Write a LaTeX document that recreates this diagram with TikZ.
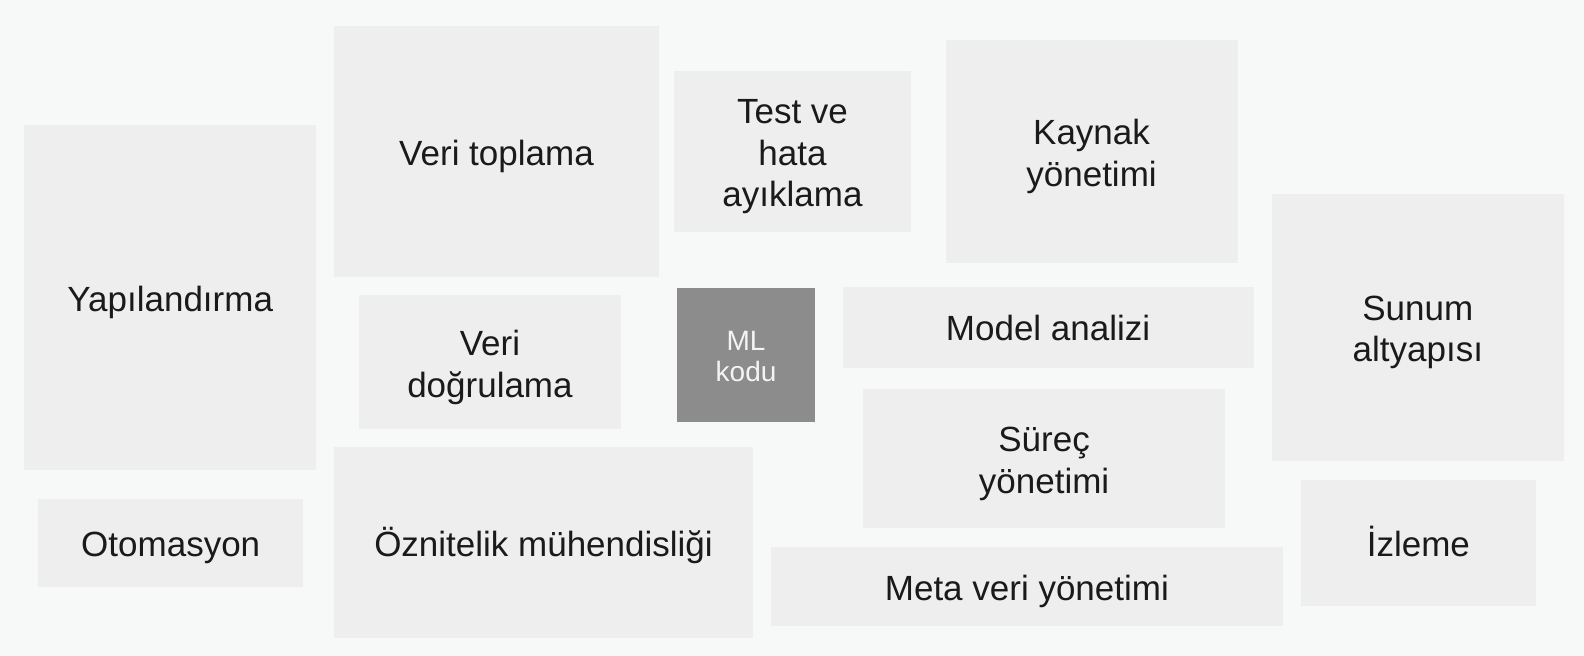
\documentclass[tikz,border=0pt]{standalone}
\usepackage{fontspec}
\setmainfont{Liberation Sans}
\definecolor{bg}{HTML}{F7F8F8}
\definecolor{boxfill}{HTML}{EEEEEE}
\definecolor{mlfill}{HTML}{8C8C8C}
\definecolor{txt}{HTML}{1A1A1A}
\definecolor{mltxt}{HTML}{F4F4F4}
\newcommand{\topstrut}{\rule{0pt}{0.95em}}
\newcommand{\botstrut}{\rule[-0.23em]{0pt}{0.23em}}
\begin{document}
\begin{tikzpicture}[x=1.0102pt,y=-1.0102pt,
  lbl/.style={text=txt,align=center,font=\fontsize{35}{41.8}\selectfont,inner sep=0pt,yshift=-1pt,
    execute at begin node=\topstrut, execute at end node=\botstrut},
  multi/.style={yshift=-4.5pt},
  mllbl/.style={text=mltxt,align=center,font=\fontsize{28}{31.3}\selectfont,inner sep=0pt,yshift=-4.5pt,
    execute at begin node=\topstrut, execute at end node=\botstrut}]
\fill[bg] (0,0) rectangle (1568,649.37);
\useasboundingbox (0,0) rectangle (1568,649.37);
% boxes
\newcommand{\blkbox}[6]{%
  \fill[#6] (#1,#2) rectangle (#3,#4);
  \coordinate (#5) at ({(#1+#3)/2},{(#2+#4)/2});}
\blkbox{24}{124}{313}{465}{yap}{boxfill}
\blkbox{38}{494}{300}{581}{oto}{boxfill}
\blkbox{331}{26}{652}{274}{top}{boxfill}
\blkbox{355}{292}{615}{425}{dog}{boxfill}
\blkbox{331}{442}{745}{632}{ozn}{boxfill}
\blkbox{667}{70}{902}{230}{tst}{boxfill}
\blkbox{670}{285}{807}{418}{ml}{mlfill}
\blkbox{936}{40}{1225}{260}{kay}{boxfill}
\blkbox{834}{284}{1241}{364}{mod}{boxfill}
\blkbox{854}{385}{1213}{523}{sur}{boxfill}
\blkbox{763}{541}{1270}{620}{met}{boxfill}
\blkbox{1259}{192}{1548}{456}{sun}{boxfill}
\blkbox{1288}{475}{1520}{600}{izl}{boxfill}
% labels
\node[lbl] (tyap) at (yap) {Yapılandırma};
\node[lbl] (toto) at (oto) {Otomasyon};
\node[lbl] (ttop) at (top) {Veri toplama};
\node[lbl,multi] (tdog) at (dog) {Veri\\doğrulama};
\node[lbl] (tozn) at (ozn) {Öznitelik mühendisliği};
\node[lbl,multi] (ttst) at (tst) {Test ve\\hata\\ayıklama};
\node[mllbl] (tml) at (ml) {ML\\kodu};
\node[lbl,multi] (tkay) at (kay) {Kaynak\\yönetimi};
\node[lbl] (tmod) at (mod) {Model analizi};
\node[lbl,multi] (tsur) at (sur) {Süreç\\yönetimi};
\node[lbl] (tmet) at (met) {Meta veri yönetimi};
\node[lbl,multi] (tsun) at (sun) {Sunum\\altyapısı};
\node[lbl] (tizl) at (izl) {İzleme};
\end{tikzpicture}
\end{document}
